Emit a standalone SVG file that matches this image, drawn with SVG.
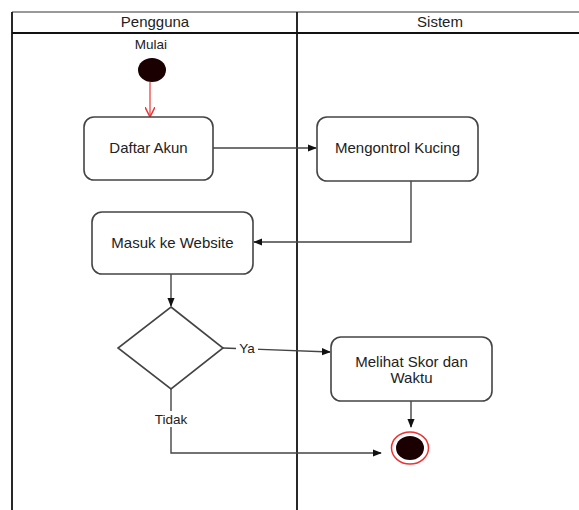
<svg xmlns="http://www.w3.org/2000/svg" width="579" height="510" viewBox="0 0 579 510">
<style>
text{font-family:"Liberation Sans",Arial,sans-serif;fill:#222;text-anchor:middle}
.lbl{font-size:15px}
.sm{font-size:13.5px}
.box{fill:#fff;stroke:#444;stroke-width:1.6}
.edge{fill:none;stroke:#444;stroke-width:1.4}
.lane{stroke:#111;stroke-width:1.8;fill:none}
</style>
<defs>
<marker id="ah" viewBox="0 0 10 10" refX="9" refY="5" markerWidth="9" markerHeight="9" markerUnits="userSpaceOnUse" orient="auto">
<path d="M0,1 L10,5 L0,9 Z" fill="#111"/>
</marker>
<marker id="ahr" viewBox="0 0 10 10" refX="9" refY="5" markerWidth="10" markerHeight="10" markerUnits="userSpaceOnUse" orient="auto">
<path d="M0,0 L10,5 L0,10" fill="none" stroke="#e33" stroke-width="1.5"/>
</marker>
</defs>
<rect width="579" height="510" fill="#fff"/>
<g id="swimlanes">
<line x1="12" y1="12" x2="579" y2="12" stroke="#999" stroke-width="1.8"/>
<line class="lane" x1="12" y1="33" x2="579" y2="33"/>
<line class="lane" x1="12" y1="12" x2="12" y2="510"/>
<line class="lane" x1="297" y1="12" x2="297" y2="510"/>
<text class="lbl" x="155" y="27">Pengguna</text>
<text class="lbl" x="440" y="27">Sistem</text>
</g>
<g id="connectors">
<line x1="150" y1="82" x2="150" y2="116" stroke="#e33" stroke-width="1.2" marker-end="url(#ahr)"/>
<line class="edge" x1="213" y1="148" x2="316" y2="148" marker-end="url(#ah)"/>
<polyline class="edge" points="411,181 411,242 254,242" marker-end="url(#ah)"/>
<line class="edge" x1="171" y1="274" x2="171" y2="306" marker-end="url(#ah)"/>
<polyline class="edge" points="223,348 330,352" marker-end="url(#ah)"/>
<line class="edge" x1="411" y1="401" x2="411" y2="427" marker-end="url(#ah)"/>
<polyline class="edge" points="171,389 171,453 381,453" marker-end="url(#ah)"/>
<rect x="236" y="340" width="22" height="16" fill="#fff"/>
<text class="sm" x="247" y="353">Ya</text>
<rect x="154" y="411" width="34" height="16" fill="#fff"/>
<text class="sm" x="171" y="424">Tidak</text>
</g>
<g id="start">
<text class="sm" x="151" y="49">Mulai</text>
<ellipse cx="152" cy="70" rx="14" ry="12" fill="#1a0000"/>
</g>
<g id="daftar">
<rect class="box" x="84" y="117" width="129" height="63" rx="10"/>
<text class="lbl" x="148.5" y="153">Daftar Akun</text>
</g>
<g id="mengontrol">
<rect class="box" x="317" y="117" width="161" height="64" rx="10"/>
<text class="lbl" x="397.5" y="153">Mengontrol Kucing</text>
</g>
<g id="masuk">
<rect class="box" x="92" y="212" width="161" height="62" rx="10"/>
<text class="lbl" x="172.5" y="248">Masuk ke Website</text>
</g>
<g id="decision">
<polygon points="171,307 223,348 171,389 118,348" fill="#fff" stroke="#444" stroke-width="1.6"/>
</g>
<g id="melihat">
<rect class="box" x="331" y="337" width="161" height="64" rx="10"/>
<text class="lbl" x="411.5" y="367">Melihat Skor dan</text>
<text class="lbl" x="411.5" y="383">Waktu</text>
</g>
<g id="end">
<ellipse cx="410" cy="448" rx="18.5" ry="16" fill="#fff" stroke="#e33" stroke-width="1.5"/>
<ellipse cx="410" cy="448" rx="14" ry="12" fill="#1a0000"/>
</g>
</svg>
